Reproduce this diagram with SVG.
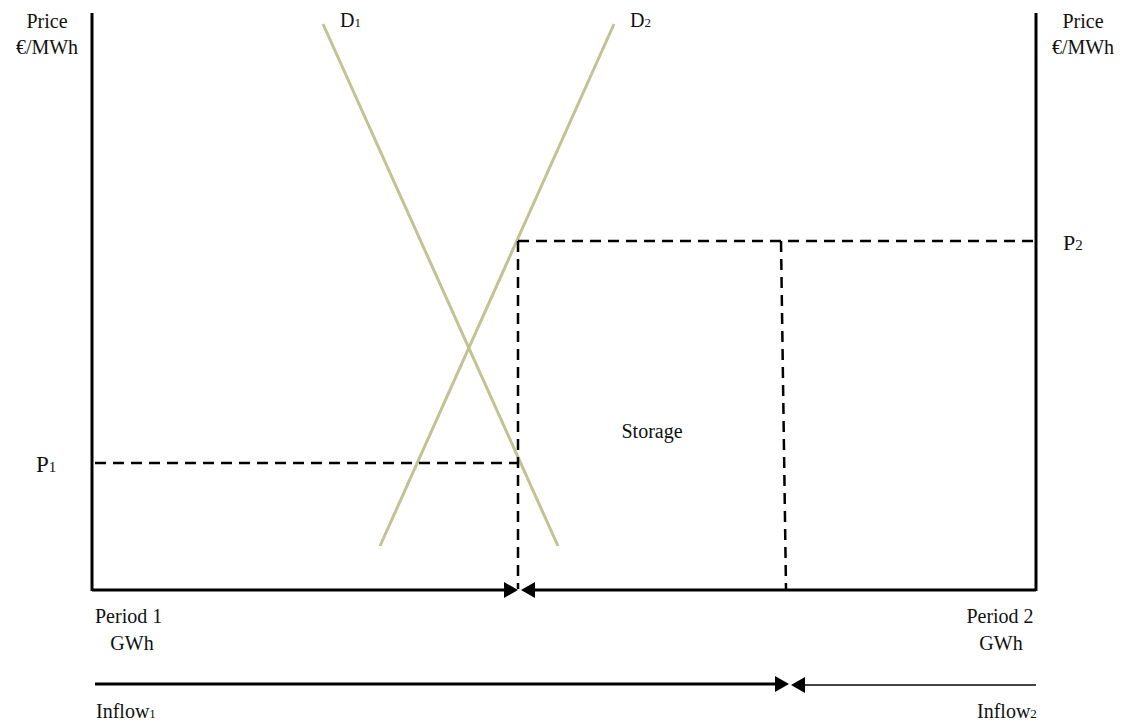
<svg xmlns="http://www.w3.org/2000/svg" width="1126" height="724" viewBox="0 0 1126 724">
<style>
text{font-family:"Liberation Serif","Times New Roman",serif;fill:#111}
.lbl{font-size:20px}
.sub{font-size:13px}
.axis{stroke:#000;stroke-width:3;fill:none}
.dash{stroke:#000;stroke-width:2.5;stroke-dasharray:11,7;fill:none}
.curve{stroke:#c3c293;stroke-width:3;fill:none}
.head{fill:#000}
</style>
<rect width="1126" height="724" fill="#fff"/>
<g id="axes">
<line class="axis" x1="92" y1="13" x2="92" y2="591"/>
<line class="axis" x1="1036" y1="13" x2="1036" y2="591"/>
</g>
<g id="curves">
<line class="curve" x1="323" y1="24" x2="558" y2="546"/>
<line class="curve" x1="380" y1="546" x2="614" y2="24"/>
</g>
<g id="connectors">
<line class="dash" x1="518" y1="241" x2="1036" y2="241"/>
<line class="dash" x1="518" y1="241" x2="518" y2="589"/>
<line class="dash" x1="781" y1="241" x2="786" y2="589"/>
<line class="dash" x1="95" y1="463" x2="519" y2="463"/>
<line class="axis" x1="92" y1="590" x2="506" y2="590"/>
<line class="axis" x1="533" y1="590" x2="1036" y2="590"/>
<polygon class="head" points="518,590 504,582 504,598"/>
<polygon class="head" points="521,590 535,582 535,598"/>
<line class="axis" x1="95" y1="684" x2="776" y2="684"/>
<polygon class="head" points="789,684 775,676 775,692"/>
<line x1="802" y1="685" x2="1036" y2="685" stroke="#444" stroke-width="2"/>
<polygon class="head" points="791,685 805,677 805,693"/>
</g>
<g id="labels">
<text class="lbl" x="47" y="28" text-anchor="middle">Price</text>
<text class="lbl" x="47" y="54" text-anchor="middle">€/MWh</text>
<text class="lbl" x="1083" y="28" text-anchor="middle">Price</text>
<text class="lbl" x="1083" y="54" text-anchor="middle">€/MWh</text>
<text class="lbl" x="340" y="27">D<tspan class="sub">1</tspan></text>
<text class="lbl" x="630" y="27">D<tspan class="sub">2</tspan></text>
<text x="1063" y="250" font-size="22">P<tspan font-size="15">2</tspan></text>
<text x="36" y="472" font-size="23">P<tspan font-size="15">1</tspan></text>
<text class="lbl" x="652" y="438" text-anchor="middle">Storage</text>
<text class="lbl" x="95" y="623">Period 1</text>
<text class="lbl" x="132" y="650" text-anchor="middle">GWh</text>
<text class="lbl" x="1000" y="623" text-anchor="middle">Period 2</text>
<text class="lbl" x="1001" y="650" text-anchor="middle">GWh</text>
<text class="lbl" x="96" y="718">Inflow<tspan class="sub">1</tspan></text>
<text class="lbl" x="977" y="718">Inflow<tspan class="sub">2</tspan></text>
</g>
</svg>
